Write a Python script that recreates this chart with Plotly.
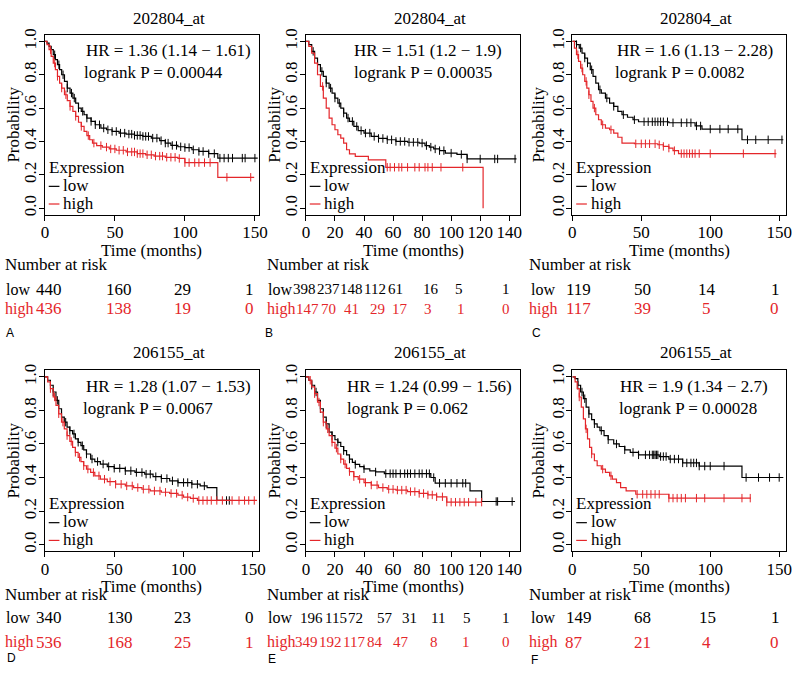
import plotly.graph_objects as go

FONT = "Liberation Serif, Tinos, Times New Roman, Times, DejaVu Serif, serif"
RED = "#e4262a"
BLACK = "#000000"
W, H = 800, 675

# ---------------- data ----------------
panel_titles = ["202804_at", "202804_at", "202804_at", "206155_at", "206155_at", "206155_at"]
hr_texts = ["HR = 1.36 (1.14 \u2212 1.61)", "HR = 1.51 (1.2 \u2212 1.9)", "HR = 1.6 (1.13 \u2212 2.28)",
            "HR = 1.28 (1.07 \u2212 1.53)", "HR = 1.24 (0.99 \u2212 1.56)", "HR = 1.9 (1.34 \u2212 2.7)"]
p_texts = ["logrank P = 0.00044", "logrank P = 0.00035", "logrank P = 0.0082",
           "logrank P = 0.0067", "logrank P = 0.062", "logrank P = 0.00028"]
panel_letters = ["A", "B", "C", "D", "E", "F"]

# Panel A
A_low_t = [0, 1.5, 3, 4.5, 6, 7.5, 9, 10.5, 12, 14, 16, 18, 20, 22, 24, 26, 28, 30, 33, 36, 40, 44, 48, 53, 58, 64, 70, 76, 82, 86, 90, 95, 100, 105, 110, 117, 123.5]
A_low_s = [1.0, 0.99, 0.97, 0.95, 0.92, 0.89, 0.86, 0.83, 0.80, 0.76, 0.72, 0.69, 0.66, 0.63, 0.60, 0.58, 0.56, 0.54, 0.52, 0.50, 0.48, 0.47, 0.46, 0.45, 0.444, 0.436, 0.43, 0.42, 0.405, 0.39, 0.376, 0.368, 0.363, 0.35, 0.34, 0.327, 0.30]
A_low_end = 152
A_low_cens = [7, 10, 13, 16, 19, 21, 24, 27, 30, 33, 36, 39, 42, 45, 48, 51, 54, 57, 60, 62, 64, 66, 68, 70, 72, 74, 77, 80, 83, 86, 88, 91, 94, 97, 100, 103, 106, 110, 113, 117, 121, 125, 128, 131, 134, 141, 143, 150]
A_high_t = [0, 1.5, 3, 4.5, 6, 7.5, 9, 10.5, 12, 14, 16, 18, 20, 22, 24, 26, 28, 30, 32, 34, 37, 41, 46, 51, 58, 66, 72, 78, 86, 95, 100, 123.5]
A_high_s = [1.0, 0.98, 0.95, 0.91, 0.87, 0.83, 0.79, 0.75, 0.72, 0.68, 0.645, 0.61, 0.58, 0.55, 0.515, 0.49, 0.46, 0.435, 0.41, 0.39, 0.375, 0.366, 0.355, 0.347, 0.337, 0.327, 0.32, 0.312, 0.305, 0.298, 0.273, 0.185]
A_high_end = 149.5
A_high_cens = [4, 7, 9, 12, 15, 18, 22, 26, 31, 35, 40, 44, 47, 50, 53, 56, 59, 62, 64, 66, 68, 70, 73, 76, 79, 82, 84, 87, 90, 93, 96, 100, 103, 107, 110, 114, 118, 130, 147]

# Panel B
B_low_t = [0, 2, 4, 6, 8, 10, 12, 14, 16, 18, 20, 22, 24, 26, 28, 30, 33, 36, 40, 45, 50, 56, 62, 70, 78, 82, 85, 88, 92, 96, 104, 111]
B_low_s = [1.0, 0.98, 0.94, 0.90, 0.86, 0.82, 0.79, 0.75, 0.72, 0.69, 0.66, 0.63, 0.60, 0.57, 0.54, 0.52, 0.49, 0.465, 0.45, 0.43, 0.418, 0.41, 0.40, 0.395, 0.39, 0.375, 0.366, 0.355, 0.345, 0.33, 0.322, 0.295]
B_low_end = 145
B_low_cens = [5, 8, 11, 14, 17, 20, 23, 26, 29, 32, 35, 38, 41, 44, 47, 50, 53, 56, 59, 62, 65, 68, 71, 74, 77, 80, 83, 86, 89, 92, 95, 100, 107, 111, 120, 130, 132, 144]
B_high_t = [0, 2, 4, 6, 8, 10, 12, 14, 16, 18, 20, 22, 24, 26, 28, 30, 34, 43, 55, 122]
B_high_s = [1.0, 0.97, 0.93, 0.87, 0.80, 0.73, 0.66, 0.60, 0.54, 0.50, 0.47, 0.44, 0.42, 0.39, 0.35, 0.325, 0.31, 0.29, 0.245, 0.0]
B_high_end = 122
B_high_cens = [11.5, 56, 58, 61, 64, 66, 70, 75, 78, 82, 84, 87, 93, 108]

# Panel C
C_low_t = [0, 3, 5, 7, 9, 11, 13, 15, 17, 19, 21, 24, 27, 30, 33, 36, 40, 44, 48, 70, 89, 94, 123]
C_low_s = [1.0, 0.98, 0.96, 0.93, 0.90, 0.87, 0.83, 0.79, 0.75, 0.71, 0.69, 0.66, 0.63, 0.61, 0.58, 0.56, 0.545, 0.53, 0.518, 0.512, 0.493, 0.474, 0.41]
C_low_end = 153
C_low_cens = [3, 6, 9, 11, 14, 20, 25, 30, 37, 45, 52, 55, 58, 60, 62, 64, 66, 69, 73, 79, 83, 86, 90, 93, 100, 107, 113, 120, 127, 133, 142, 152]
C_high_t = [0, 1.5, 3, 4.5, 6, 7.5, 9, 10.5, 12, 13.5, 15, 17, 19, 21, 24, 27, 30, 33, 36, 45, 62, 66, 70, 73, 77]
C_high_s = [1.0, 0.96, 0.92, 0.88, 0.84, 0.80, 0.76, 0.72, 0.68, 0.64, 0.60, 0.56, 0.53, 0.50, 0.48, 0.47, 0.45, 0.425, 0.39, 0.386, 0.38, 0.37, 0.36, 0.345, 0.327]
C_high_end = 148
C_high_cens = [4, 7, 10, 12, 16, 22, 28, 46, 50, 53, 56, 60, 63, 66, 70, 74, 79, 81, 83, 85, 87, 89, 92, 100, 124, 147]

# Panel D
D_low_t = [0, 2, 4, 6, 8, 10, 12, 14, 16, 18, 20, 22, 24, 26, 28, 30, 33, 36, 40, 45, 50, 58, 65, 72, 78, 84, 90, 96, 106, 112, 117, 124]
D_low_s = [1.0, 0.98, 0.95, 0.91, 0.86, 0.81, 0.76, 0.73, 0.70, 0.68, 0.66, 0.63, 0.61, 0.59, 0.565, 0.54, 0.51, 0.495, 0.48, 0.465, 0.455, 0.44, 0.43, 0.42, 0.405, 0.394, 0.38, 0.37, 0.36, 0.35, 0.34, 0.263]
D_low_end = 134
D_low_cens = [6, 9, 12, 15, 18, 21, 24, 27, 30, 34, 38, 42, 46, 50, 54, 58, 62, 66, 70, 73, 76, 80, 84, 88, 92, 96, 100, 103, 106, 110, 115, 131, 133]
D_high_t = [0, 2, 4, 6, 8, 10, 12, 14, 16, 18, 20, 22, 24, 26, 28, 30, 33, 36, 40, 45, 51, 58, 64, 70, 76, 84, 90, 96, 100, 105, 110]
D_high_s = [1.0, 0.97, 0.93, 0.88, 0.83, 0.78, 0.73, 0.69, 0.65, 0.615, 0.58, 0.55, 0.52, 0.495, 0.47, 0.45, 0.43, 0.41, 0.39, 0.375, 0.36, 0.35, 0.34, 0.33, 0.32, 0.312, 0.305, 0.295, 0.283, 0.275, 0.263]
D_high_end = 153
D_high_cens = [4, 7, 10, 13, 16, 19, 22, 25, 28, 31, 35, 39, 43, 47, 51, 55, 59, 63, 67, 71, 75, 79, 83, 87, 91, 95, 99, 103, 107, 111, 114, 117, 120, 124, 128, 135, 140, 144, 147, 151]

# Panel E
E_low_t = [0, 2, 4, 6, 8, 10, 12, 14, 16, 18, 20, 22, 24, 26, 28, 30, 32, 34, 37, 40, 44, 48, 54, 86, 89, 113, 121]
E_low_s = [1.0, 0.98, 0.95, 0.91, 0.86, 0.81, 0.76, 0.72, 0.67, 0.65, 0.625, 0.61, 0.585, 0.56, 0.535, 0.51, 0.49, 0.478, 0.465, 0.452, 0.44, 0.433, 0.423, 0.40, 0.366, 0.32, 0.257]
E_low_end = 144
E_low_cens = [4, 7, 10, 14, 18, 22, 26, 30, 34, 40, 48, 55, 58, 60, 62, 65, 68, 70, 72, 75, 78, 80, 83, 85, 88, 92, 96, 100, 104, 108, 110, 131, 132, 142]
E_high_t = [0, 2, 4, 6, 8, 10, 12, 14, 16, 18, 20, 22, 24, 26, 28, 30, 33, 36, 40, 45, 50, 56, 62, 70, 78, 84, 90, 97]
E_high_s = [1.0, 0.98, 0.94, 0.90, 0.85, 0.79, 0.73, 0.69, 0.65, 0.61, 0.575, 0.54, 0.51, 0.48, 0.455, 0.435, 0.405, 0.39, 0.37, 0.355, 0.34, 0.33, 0.325, 0.316, 0.305, 0.296, 0.285, 0.253]
E_high_end = 121
E_high_cens = [3, 6, 9, 12, 15, 18, 21, 24, 27, 30, 33, 37, 41, 45, 49, 53, 57, 60, 63, 66, 69, 72, 75, 78, 81, 84, 87, 90, 94, 97, 100, 103, 106, 109, 112, 117, 121]

# Panel F
F_low_t = [0, 2, 4, 6, 8, 10, 12, 14, 16, 18, 20, 23, 26, 30, 34, 38, 42, 48, 63, 70, 80, 92, 123]
F_low_s = [1.0, 0.99, 0.95, 0.91, 0.87, 0.82, 0.78, 0.745, 0.72, 0.70, 0.68, 0.65, 0.625, 0.60, 0.585, 0.565, 0.55, 0.535, 0.525, 0.51, 0.487, 0.468, 0.40]
F_low_end = 153
F_low_cens = [4, 7, 9, 12, 16, 21, 26, 32, 38, 44, 48, 53, 56, 58, 59, 60, 61, 62, 64, 66, 68, 71, 74, 77, 80, 83, 86, 88, 90, 92, 96, 100, 110, 126, 135, 143, 150]
F_high_t = [0, 2, 3.5, 5, 6.5, 8, 9.5, 11, 12.5, 14, 16, 18, 21, 24, 27, 29, 32, 35, 39, 46, 70]
F_high_s = [1.0, 0.97, 0.93, 0.88, 0.82, 0.75, 0.69, 0.63, 0.58, 0.54, 0.50, 0.47, 0.45, 0.43, 0.41, 0.39, 0.37, 0.34, 0.32, 0.30, 0.277]
F_high_end = 129.5
F_high_cens = [5, 10, 14, 22, 28, 47, 51, 54, 57, 60, 63, 70, 73, 76, 79, 82, 90, 96, 110, 123, 129]

# Number-at-risk tables
risk_times_4 = [0, 50, 100, 150]
risk_times_8 = [0, 20, 40, 60, 80, 100, 120, 140]
A_risk_low = [440, 160, 29, 1]
A_risk_high = [436, 138, 19, 0]
B_risk_low = [398, 237, 148, 112, 61, 16, 5, 1]
B_risk_high = [147, 70, 41, 29, 17, 3, 1, 0]
C_risk_low = [119, 50, 14, 1]
C_risk_high = [117, 39, 5, 0]
D_risk_low = [340, 130, 23, 0]
D_risk_high = [536, 168, 25, 1]
E_risk_low = [196, 115, 72, 57, 31, 11, 5, 1]
E_risk_high = [349, 192, 117, 84, 47, 8, 1, 0]
F_risk_low = [149, 68, 15, 1]
F_risk_high = [87, 21, 4, 0]

# ---------------- layout helpers (pixels) ----------------
boxes = [(41.5, 259, 29, 211), (306.5, 524, 29, 211), (577, 794, 29, 211),
         (41.5, 259, 368, 551), (306.5, 524, 368, 551), (577, 794, 368, 551)]
x_ranges = [[0, 153], [0, 147.5], [0, 155], [0, 154.5], [0, 147.5], [0, 155]]
hr_x = [0.188, 0.222, 0.204, 0.188, 0.188, 0.22]
p_x = [0.18, 0.222, 0.197, 0.171, 0.188, 0.212]
risk_shift_low = [[4.5, 4.4, -2.7, -5.7], [-1, -6.8, -12.7, -18, -27, -20, -21.5, -3], [6.3, 1.3, -3, -4],
                  [4.3, 5.6, -1.5, -3.7], [6, 0.7, -8.8, -8, -12.5, -13, -13.5, -3], [6.3, 1.3, -3, -4]]
risk_shift_high = [[4.5, 4.4, -2.7, -5.7], [1.8, -6.5, -12.2, -15.7, -22, -23.3, -19.5, -3], [6.3, 1.3, -4, -5],
                   [4.3, 5.6, -1.5, -3.7], [0.5, -4.5, -10.5, -18.5, -21.5, -17, -14.5, -3], [2, 1.3, -4, -5]]
risk_num_size = [17, 15, 17, 17, 15, 17]
row_title_y = [13, 350]
row_xtitle_y = [247.5, 587]
row_nar_y = [261, 595]
row_low_y = [286, 618]
row_high_y = [306, 643]
ytitle_x = [10, 275, 543, 10, 275, 543]
letter_pos = [(6, 330), (269, 330), (541, 330), (7.5, 659), (272, 660), (539, 661)]
row_label_x = [(1, 0), (267, 266), (534, 532), (1, 0), (267, 266), (534, 532)]
x_label_standoff = [-3, -3, -3, -3, -3, -3]

panels = [
    dict(low=(A_low_t, A_low_s, A_low_end, A_low_cens), high=(A_high_t, A_high_s, A_high_end, A_high_cens),
         rt=risk_times_4, rl=A_risk_low, rh=A_risk_high, ticks=[0, 50, 100, 150]),
    dict(low=(B_low_t, B_low_s, B_low_end, B_low_cens), high=(B_high_t, B_high_s, B_high_end, B_high_cens),
         rt=risk_times_8, rl=B_risk_low, rh=B_risk_high, ticks=[0, 20, 40, 60, 80, 100, 120, 140]),
    dict(low=(C_low_t, C_low_s, C_low_end, C_low_cens), high=(C_high_t, C_high_s, C_high_end, C_high_cens),
         rt=risk_times_4, rl=C_risk_low, rh=C_risk_high, ticks=[0, 50, 100, 150]),
    dict(low=(D_low_t, D_low_s, D_low_end, D_low_cens), high=(D_high_t, D_high_s, D_high_end, D_high_cens),
         rt=risk_times_4, rl=D_risk_low, rh=D_risk_high, ticks=[0, 50, 100, 150]),
    dict(low=(E_low_t, E_low_s, E_low_end, E_low_cens), high=(E_high_t, E_high_s, E_high_end, E_high_cens),
         rt=risk_times_8, rl=E_risk_low, rh=E_risk_high, ticks=[0, 20, 40, 60, 80, 100, 120, 140]),
    dict(low=(F_low_t, F_low_s, F_low_end, F_low_cens), high=(F_high_t, F_high_s, F_high_end, F_high_cens),
         rt=risk_times_4, rl=F_risk_low, rh=F_risk_high, ticks=[0, 50, 100, 150]),
]


def step_at(ts, ss, t):
    v = ss[0]
    for ti, si in zip(ts, ss):
        if ti <= t:
            v = si
        else:
            break
    return v


def py(px):
    return 1 - px / H


fig = go.Figure()
layout = dict(width=W, height=H, margin=dict(l=0, r=0, t=0, b=0),
              paper_bgcolor="white", plot_bgcolor="white", showlegend=False,
              font=dict(family=FONT, size=17, color="black"))
annotations = []
shapes = []
tf = dict(family=FONT, size=17, color="black")
lab_low = dict(family=FONT, size=16, color="black")
lab_high = dict(family=FONT, size=16, color=RED)


def ann(**kw):
    d = dict(showarrow=False, borderpad=0, xanchor="left", yanchor="middle", font=tf)
    d.update(kw)
    annotations.append(d)


for i, p in enumerate(panels):
    k = "" if i == 0 else str(i + 1)
    xa, ya = "x" + k, "y" + k
    L, R, T, B = boxes[i]
    r = i // 3
    layout["xaxis" + k] = dict(domain=[L / W, R / W], range=x_ranges[i], anchor=ya,
                               tickvals=p["ticks"], showline=True, linecolor="black", linewidth=1,
                               mirror=True, ticks="outside", ticklen=5, tickcolor="black",
                               ticklabelstandoff=x_label_standoff[i],
                               showgrid=False, zeroline=False, tickfont=tf)
    layout["yaxis" + k] = dict(domain=[py(B), py(T)], range=[-0.04, 1.04], anchor=xa,
                               tickvals=[0, 0.2, 0.4, 0.6, 0.8, 1.0],
                               ticktext=["0.0", "0.2", "0.4", "0.6", "0.8", "1.0"],
                               tickangle=-90, showline=True, linecolor="black", linewidth=1,
                               mirror=True, ticks="outside", ticklen=5, tickcolor="black",
                               ticklabelstandoff=-4,
                               showgrid=False, zeroline=False, tickfont=tf)
    for g, col in (("low", BLACK), ("high", RED)):
        ts, ss, end, cens = p[g]
        fig.add_trace(go.Scatter(x=list(ts) + [end], y=list(ss) + [ss[-1]], mode="lines",
                                 line=dict(color=col, width=1.2, shape="hv"),
                                 xaxis=xa, yaxis=ya, name=g, hoverinfo="skip"))
        fig.add_trace(go.Scatter(x=cens, y=[step_at(ts, ss, c) for c in cens], mode="markers",
                                 marker=dict(symbol="line-ns", size=6, line=dict(color=col, width=1)),
                                 xaxis=xa, yaxis=ya, name=g + " censored", hoverinfo="skip"))
    # axis titles
    ann(text="Time (months)", xref=xa + " domain", yref="paper", x=0.5, y=py(row_xtitle_y[r]), xanchor="center")
    ann(text="Probability", xref="paper", yref=ya + " domain", x=ytitle_x[i] / W, y=0.5,
        xanchor="center", textangle=-90)
    # title
    ann(text=panel_titles[i], xref=xa + " domain", yref="paper", x=0.58, y=py(row_title_y[r]), xanchor="center")
    # HR / p
    ann(text=hr_texts[i], xref=xa + " domain", yref=ya + " domain", x=hr_x[i], y=0.91)
    ann(text=p_texts[i], xref=xa + " domain", yref=ya + " domain", x=p_x[i], y=0.791)
    # legend
    ann(text="Expression", xref=xa + " domain", yref=ya + " domain", x=0.014, y=0.262)
    for gname, col, yy in (("low", BLACK, 0.158), ("high", RED, 0.06)):
        shapes.append(dict(type="line", xref=xa + " domain", yref=ya + " domain",
                           x0=0.018, x1=0.068, y0=yy, y1=yy, line=dict(color=col, width=1.2)))
        ann(text=gname, xref=xa + " domain", yref=ya + " domain", x=0.082, y=yy + 0.005)
    # risk table
    lx_low, lx_high = row_label_x[i]
    nf_low = dict(family=FONT, size=risk_num_size[i], color="black")
    nf_high = dict(family=FONT, size=risk_num_size[i], color=RED)
    ann(text="Number at risk", xref="paper", yref="paper", x=lx_high / W, y=py(row_nar_y[r]))
    ann(text="low", xref="paper", yref="paper", x=lx_low / W, y=py(row_low_y[r]), font=lab_low)
    ann(text="high", xref="paper", yref="paper", x=lx_high / W, y=py(row_high_y[r]), font=lab_high)
    for j, t in enumerate(p["rt"]):
        ann(text=str(p["rl"][j]), xref=xa, yref="paper", x=t, y=py(row_low_y[r]),
            xshift=risk_shift_low[i][j], xanchor="center", font=nf_low)
        ann(text=str(p["rh"][j]), xref=xa, yref="paper", x=t, y=py(row_high_y[r]),
            xshift=risk_shift_high[i][j], xanchor="center", font=nf_high)
    # panel letter
    lx, ly = letter_pos[i]
    ann(text=panel_letters[i], xref="paper", yref="paper", x=lx / W, y=py(ly), xanchor="center",
        font=dict(family="Liberation Sans, Arial, sans-serif", size=12, color="black"))

layout["annotations"] = annotations
layout["shapes"] = shapes
fig.update_layout(**layout)
fig.write_html("out.html", config={"displayModeBar": False},
               post_script="document.body.style.margin='0';document.body.style.padding='0';")
